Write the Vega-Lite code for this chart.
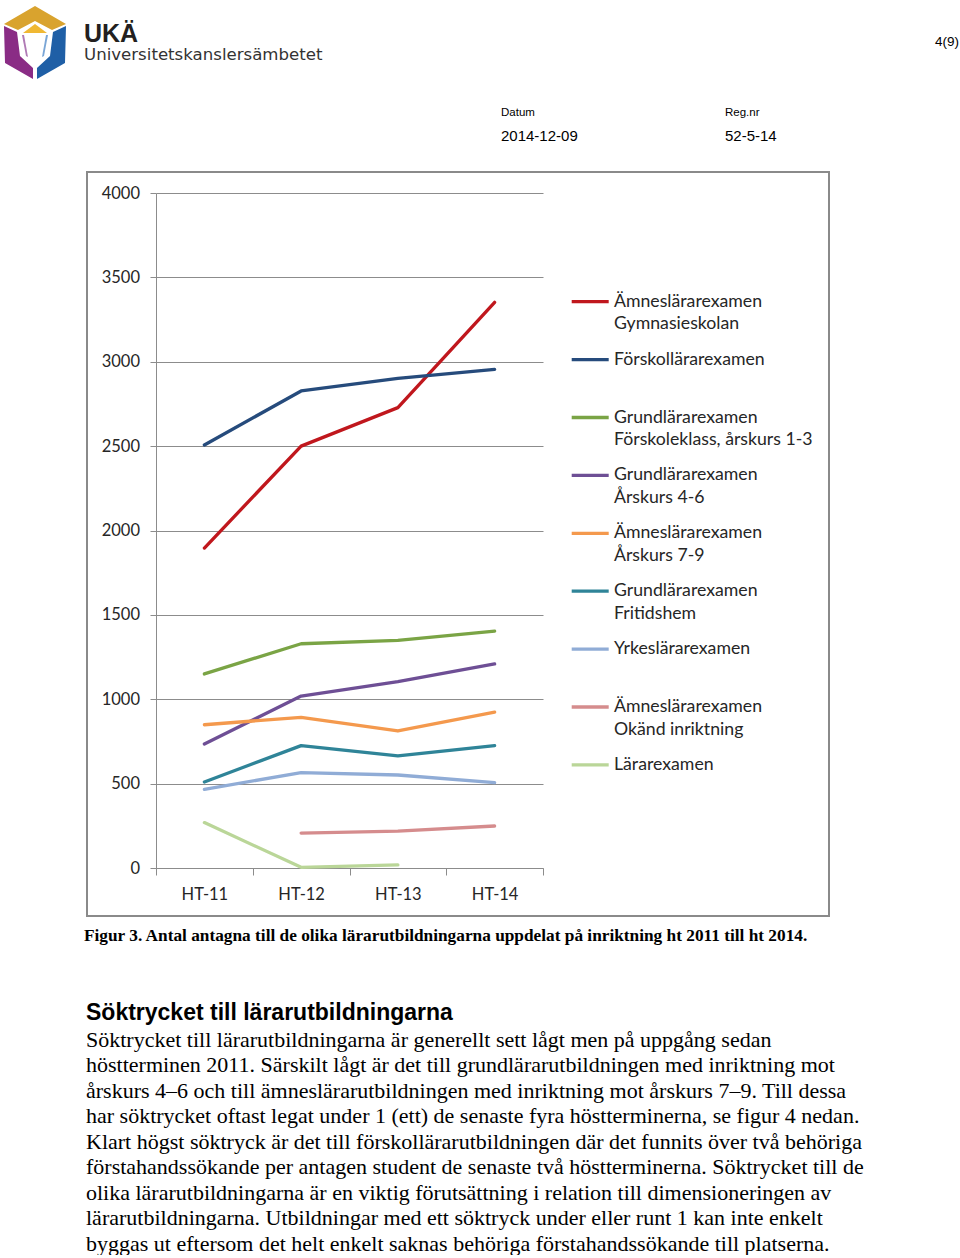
{
  "$schema": "https://vega.github.io/schema/vega-lite/v6.json",
  "padding": 0,
  "background": "white",
  "spacing": 0,
  "resolve": {"legend": {"color": "independent"}},
  "config": {
    "view": {"stroke": null},
    "concat": {"spacing": 0},
    "style": {"guide-label": {"lineHeight": 22.6}}
  },
  "datasets": {
    "antagna": [
      {"period": "HT-11", "inriktning": "Ämneslärarexamen Gymnasieskolan", "antal": 1896},
      {"period": "HT-12", "inriktning": "Ämneslärarexamen Gymnasieskolan", "antal": 2500},
      {"period": "HT-13", "inriktning": "Ämneslärarexamen Gymnasieskolan", "antal": 2728},
      {"period": "HT-14", "inriktning": "Ämneslärarexamen Gymnasieskolan", "antal": 3352},
      {"period": "HT-11", "inriktning": "Förskollärarexamen", "antal": 2507},
      {"period": "HT-12", "inriktning": "Förskollärarexamen", "antal": 2827},
      {"period": "HT-13", "inriktning": "Förskollärarexamen", "antal": 2902},
      {"period": "HT-14", "inriktning": "Förskollärarexamen", "antal": 2955},
      {"period": "HT-11", "inriktning": "Grundlärarexamen Förskoleklass, årskurs 1-3", "antal": 1150},
      {"period": "HT-12", "inriktning": "Grundlärarexamen Förskoleklass, årskurs 1-3", "antal": 1329},
      {"period": "HT-13", "inriktning": "Grundlärarexamen Förskoleklass, årskurs 1-3", "antal": 1349},
      {"period": "HT-14", "inriktning": "Grundlärarexamen Förskoleklass, årskurs 1-3", "antal": 1404},
      {"period": "HT-11", "inriktning": "Grundlärarexamen Årskurs 4-6", "antal": 735},
      {"period": "HT-12", "inriktning": "Grundlärarexamen Årskurs 4-6", "antal": 1019},
      {"period": "HT-13", "inriktning": "Grundlärarexamen Årskurs 4-6", "antal": 1104},
      {"period": "HT-14", "inriktning": "Grundlärarexamen Årskurs 4-6", "antal": 1209},
      {"period": "HT-11", "inriktning": "Ämneslärarexamen Årskurs 7-9", "antal": 849},
      {"period": "HT-12", "inriktning": "Ämneslärarexamen Årskurs 7-9", "antal": 893},
      {"period": "HT-13", "inriktning": "Ämneslärarexamen Årskurs 7-9", "antal": 812},
      {"period": "HT-14", "inriktning": "Ämneslärarexamen Årskurs 7-9", "antal": 924},
      {"period": "HT-11", "inriktning": "Grundlärarexamen Fritidshem", "antal": 510},
      {"period": "HT-12", "inriktning": "Grundlärarexamen Fritidshem", "antal": 725},
      {"period": "HT-13", "inriktning": "Grundlärarexamen Fritidshem", "antal": 664},
      {"period": "HT-14", "inriktning": "Grundlärarexamen Fritidshem", "antal": 725},
      {"period": "HT-11", "inriktning": "Yrkeslärarexamen", "antal": 466},
      {"period": "HT-12", "inriktning": "Yrkeslärarexamen", "antal": 565},
      {"period": "HT-13", "inriktning": "Yrkeslärarexamen", "antal": 551},
      {"period": "HT-14", "inriktning": "Yrkeslärarexamen", "antal": 506},
      {"period": "HT-12", "inriktning": "Ämneslärarexamen Okänd inriktning", "antal": 207},
      {"period": "HT-13", "inriktning": "Ämneslärarexamen Okänd inriktning", "antal": 219},
      {"period": "HT-14", "inriktning": "Ämneslärarexamen Okänd inriktning", "antal": 249},
      {"period": "HT-11", "inriktning": "Lärarexamen", "antal": 269},
      {"period": "HT-12", "inriktning": "Lärarexamen", "antal": 4},
      {"period": "HT-13", "inriktning": "Lärarexamen", "antal": 18}
    ]
  },
  "vconcat": [
    {
      "spacing": 0,
      "bounds": "flush",
      "hconcat": [
        {
          "width": 70,
          "height": 86,
          "data": {"values": [{"org": "UKÄ"}]},
          "layer": [
            {"mark": {"type": "point", "shape": "M -0.886 -0.543 L 0 -1.057 L 0.886 -0.543 L 0.486 -0.371 L 0 -0.629 L -0.486 -0.371 Z", "size": 4900, "filled": true, "color": "#d9a32e", "opacity": 1, "strokeWidth": 0}, "encoding": {}},
            {"mark": {"type": "point", "shape": "M 0 -0.543 L 0.343 -0.286 L -0.343 -0.286 Z", "size": 4900, "filled": true, "color": "#f0b833", "opacity": 1, "strokeWidth": 0}, "encoding": {}},
            {"mark": {"type": "point", "shape": "M -0.886 -0.486 L -0.514 -0.314 L -0.429 0.371 L -0.057 0.714 L -0.057 1.029 L -0.857 0.571 Z", "size": 4900, "filled": true, "color": "#8a2c85", "opacity": 1, "strokeWidth": 0}, "encoding": {}},
            {"mark": {"type": "point", "shape": "M 0.886 -0.486 L 0.514 -0.314 L 0.429 0.371 L 0.057 0.714 L 0.057 1.029 L 0.857 0.571 Z", "size": 4900, "filled": true, "color": "#1f5fa6", "opacity": 1, "strokeWidth": 0}, "encoding": {}},
            {"mark": {"type": "point", "shape": "M -0.371 -0.229 L -0.314 -0.229 L -0.2 0.4 L -0.257 0.371 Z", "size": 4900, "filled": true, "color": "#b07ab5", "opacity": 1, "strokeWidth": 0}, "encoding": {}},
            {"mark": {"type": "point", "shape": "M 0.371 -0.229 L 0.314 -0.229 L 0.2 0.4 L 0.257 0.371 Z", "size": 4900, "filled": true, "color": "#7aa6d6", "opacity": 1, "strokeWidth": 0}, "encoding": {}}
          ]
        },
        {"width": 14, "height": 1, "data": {"values": []}, "mark": "point"},
        {
          "width": 417,
          "height": 22,
          "data": {"values": []},
          "mark": "point",
          "title": {
            "text": "UKÄ",
            "subtitle": "Universitetskanslersämbetet",
            "orient": "bottom",
            "anchor": "start",
            "frame": "group",
            "offset": 0,
            "font": "Liberation Sans",
            "fontSize": 25,
            "fontWeight": "bold",
            "color": "#231f20",
            "subtitleFont": "DejaVu Sans",
            "subtitleFontSize": 16.6,
            "subtitleColor": "#333333",
            "subtitlePadding": 0
          }
        },
        {
          "width": 224,
          "height": 107,
          "data": {"values": []},
          "mark": "point",
          "title": {
            "text": "Datum",
            "subtitle": "2014-12-09",
            "orient": "bottom",
            "anchor": "start",
            "frame": "group",
            "offset": 0,
            "font": "Liberation Sans",
            "fontSize": 11.5,
            "fontWeight": "normal",
            "color": "#000000",
            "subtitleFont": "Liberation Sans",
            "subtitleFontSize": 15,
            "subtitleColor": "#000000",
            "subtitlePadding": 10.6
          }
        },
        {
          "width": 210,
          "height": 107,
          "data": {"values": []},
          "mark": "point",
          "title": {
            "text": "Reg.nr",
            "subtitle": "52-5-14",
            "orient": "bottom",
            "anchor": "start",
            "frame": "group",
            "offset": 0,
            "font": "Liberation Sans",
            "fontSize": 11.5,
            "fontWeight": "normal",
            "color": "#000000",
            "subtitleFont": "Liberation Sans",
            "subtitleFontSize": 15,
            "subtitleColor": "#000000",
            "subtitlePadding": 10.6
          }
        },
        {
          "width": 24,
          "height": 35,
          "data": {"values": []},
          "mark": "point",
          "title": {
            "text": "4(9)",
            "orient": "bottom",
            "anchor": "start",
            "frame": "group",
            "offset": 0,
            "font": "Liberation Sans",
            "fontSize": 13.5,
            "fontWeight": "normal",
            "color": "#000000"
          }
        },
        {"width": 1, "height": 171, "data": {"values": []}, "mark": "point"}
      ]
    },
    {
      "spacing": 0,
      "bounds": "flush",
      "resolve": {"legend": {"color": "independent"}},
      "hconcat": [
        {"width": 87, "height": 1, "data": {"values": []}, "mark": "point"},
        {
          "width": 742,
          "height": 744,
          "view": {"stroke": "#8a8a8a", "strokeWidth": 2},
          "data": {"name": "antagna"},
          "title": {
            "text": "Figur 3. Antal antagna till de olika lärarutbildningarna uppdelat på inriktning ht 2011 till ht 2014.",
            "orient": "bottom",
            "anchor": "start",
            "frame": "group",
            "offset": 11,
            "dx": -3,
            "font": "Liberation Serif",
            "fontSize": 17.3,
            "fontWeight": "bold",
            "color": "#000000"
          },
          "mark": {"type": "line", "strokeWidth": 3.3, "strokeCap": "round", "strokeJoin": "round"},
          "encoding": {
            "x": {
              "field": "period",
              "type": "ordinal",
              "sort": ["HT-11", "HT-12", "HT-13", "HT-14"],
              "scale": {"type": "band", "domain": ["HT-11", "HT-12", "HT-13", "HT-14"], "range": [69, 456], "paddingInner": 0, "paddingOuter": 0},
              "axis": {
                "title": null,
                "orient": "bottom",
                "offset": -48,
                "tickBand": "extent",
                "tickSize": 7,
                "tickColor": "#8c8c8c",
                "domainColor": "#8c8c8c",
                "labelFont": "Lato",
                "labelFontSize": 16.5,
                "labelColor": "#262626",
                "labelPadding": 11,
                "labelAngle": 0,
                "grid": false
              }
            },
            "y": {
              "field": "antal",
              "type": "quantitative",
              "scale": {"domain": [0, 4000], "range": [696, 21], "nice": false, "zero": false},
              "axis": {
                "title": null,
                "offset": -69,
                "format": "d",
                "values": [0, 500, 1000, 1500, 2000, 2500, 3000, 3500, 4000],
                "grid": true,
                "gridColor": "#8c8c8c",
                "domainColor": "#8c8c8c",
                "tickColor": "#8c8c8c",
                "tickSize": 6,
                "labelPadding": 10.5,
                "labelFont": "Lato",
                "labelFontSize": 16.5,
                "labelColor": "#262626"
              }
            },
            "color": {
              "field": "inriktning",
              "type": "nominal",
              "scale": {
                "domain": [
                  "Ämneslärarexamen Gymnasieskolan",
                  "Förskollärarexamen",
                  "Grundlärarexamen Förskoleklass, årskurs 1-3",
                  "Grundlärarexamen Årskurs 4-6",
                  "Ämneslärarexamen Årskurs 7-9",
                  "Grundlärarexamen Fritidshem",
                  "Yrkeslärarexamen",
                  "Ämneslärarexamen Okänd inriktning",
                  "Lärarexamen"
                ],
                "range": ["#c0171d", "#264b7c", "#7aa445", "#6e4f95", "#f4994d", "#2f8498", "#90acd6", "#d58c8d", "#bad698"]
              },
              "legend": {
                "title": null,
                "orient": "none",
                "direction": "vertical",
                "legendX": 491.2,
                "legendY": 108.7,
                "padding": 0,
                "symbolType": "M -1.85 0.9 L 1.85 0.9",
                "symbolSize": 400,
                "symbolStrokeWidth": 3.3,
                "labelFont": "Lato",
                "labelFontSize": 17.7,
                "labelColor": "#262626",
                "labelBaseline": "top",
                "labelOffset": 11.8,
                "labelLimit": 400,
                "rowPadding": 4.9,
                "gridAlign": "all",
                "labelExpr": "indexof(datum.label, ' ') > 0 ? [substring(datum.label, 0, indexof(datum.label, ' ')), substring(datum.label, indexof(datum.label, ' ') + 1)] : datum.label"
              }
            }
          }
        }
      ]
    },
    {
      "spacing": 0,
      "bounds": "flush",
      "hconcat": [
        {"width": 86, "height": 1, "data": {"values": []}, "mark": "point"},
        {
          "width": 874,
          "height": 55.5,
          "data": {"values": []},
          "mark": "point",
          "title": {
            "text": "Söktrycket till lärarutbildningarna",
            "subtitle": [
              "Söktrycket till lärarutbildningarna är generellt sett lågt men på uppgång sedan",
              "höstterminen 2011. Särskilt lågt är det till grundlärarutbildningen med inriktning mot",
              "årskurs 4–6 och till ämneslärarutbildningen med inriktning mot årskurs 7–9. Till dessa",
              "har söktrycket oftast legat under 1 (ett) de senaste fyra höstterminerna, se figur 4 nedan.",
              "Klart högst söktryck är det till förskollärarutbildningen där det funnits över två behöriga",
              "förstahandssökande per antagen student de senaste två höstterminerna. Söktrycket till de",
              "olika lärarutbildningarna är en viktig förutsättning i relation till dimensioneringen av",
              "lärarutbildningarna. Utbildningar med ett söktryck under eller runt 1 kan inte enkelt",
              "byggas ut eftersom det helt enkelt saknas behöriga förstahandssökande till platserna."
            ],
            "orient": "bottom",
            "anchor": "start",
            "frame": "group",
            "offset": 0,
            "font": "Liberation Sans",
            "fontSize": 23,
            "fontWeight": "bold",
            "color": "#000000",
            "subtitleFont": "Liberation Serif",
            "subtitleFontSize": 22,
            "subtitleLineHeight": 25.5,
            "subtitleColor": "#000000",
            "subtitlePadding": 5
          }
        }
      ]
    }
  ]
}
